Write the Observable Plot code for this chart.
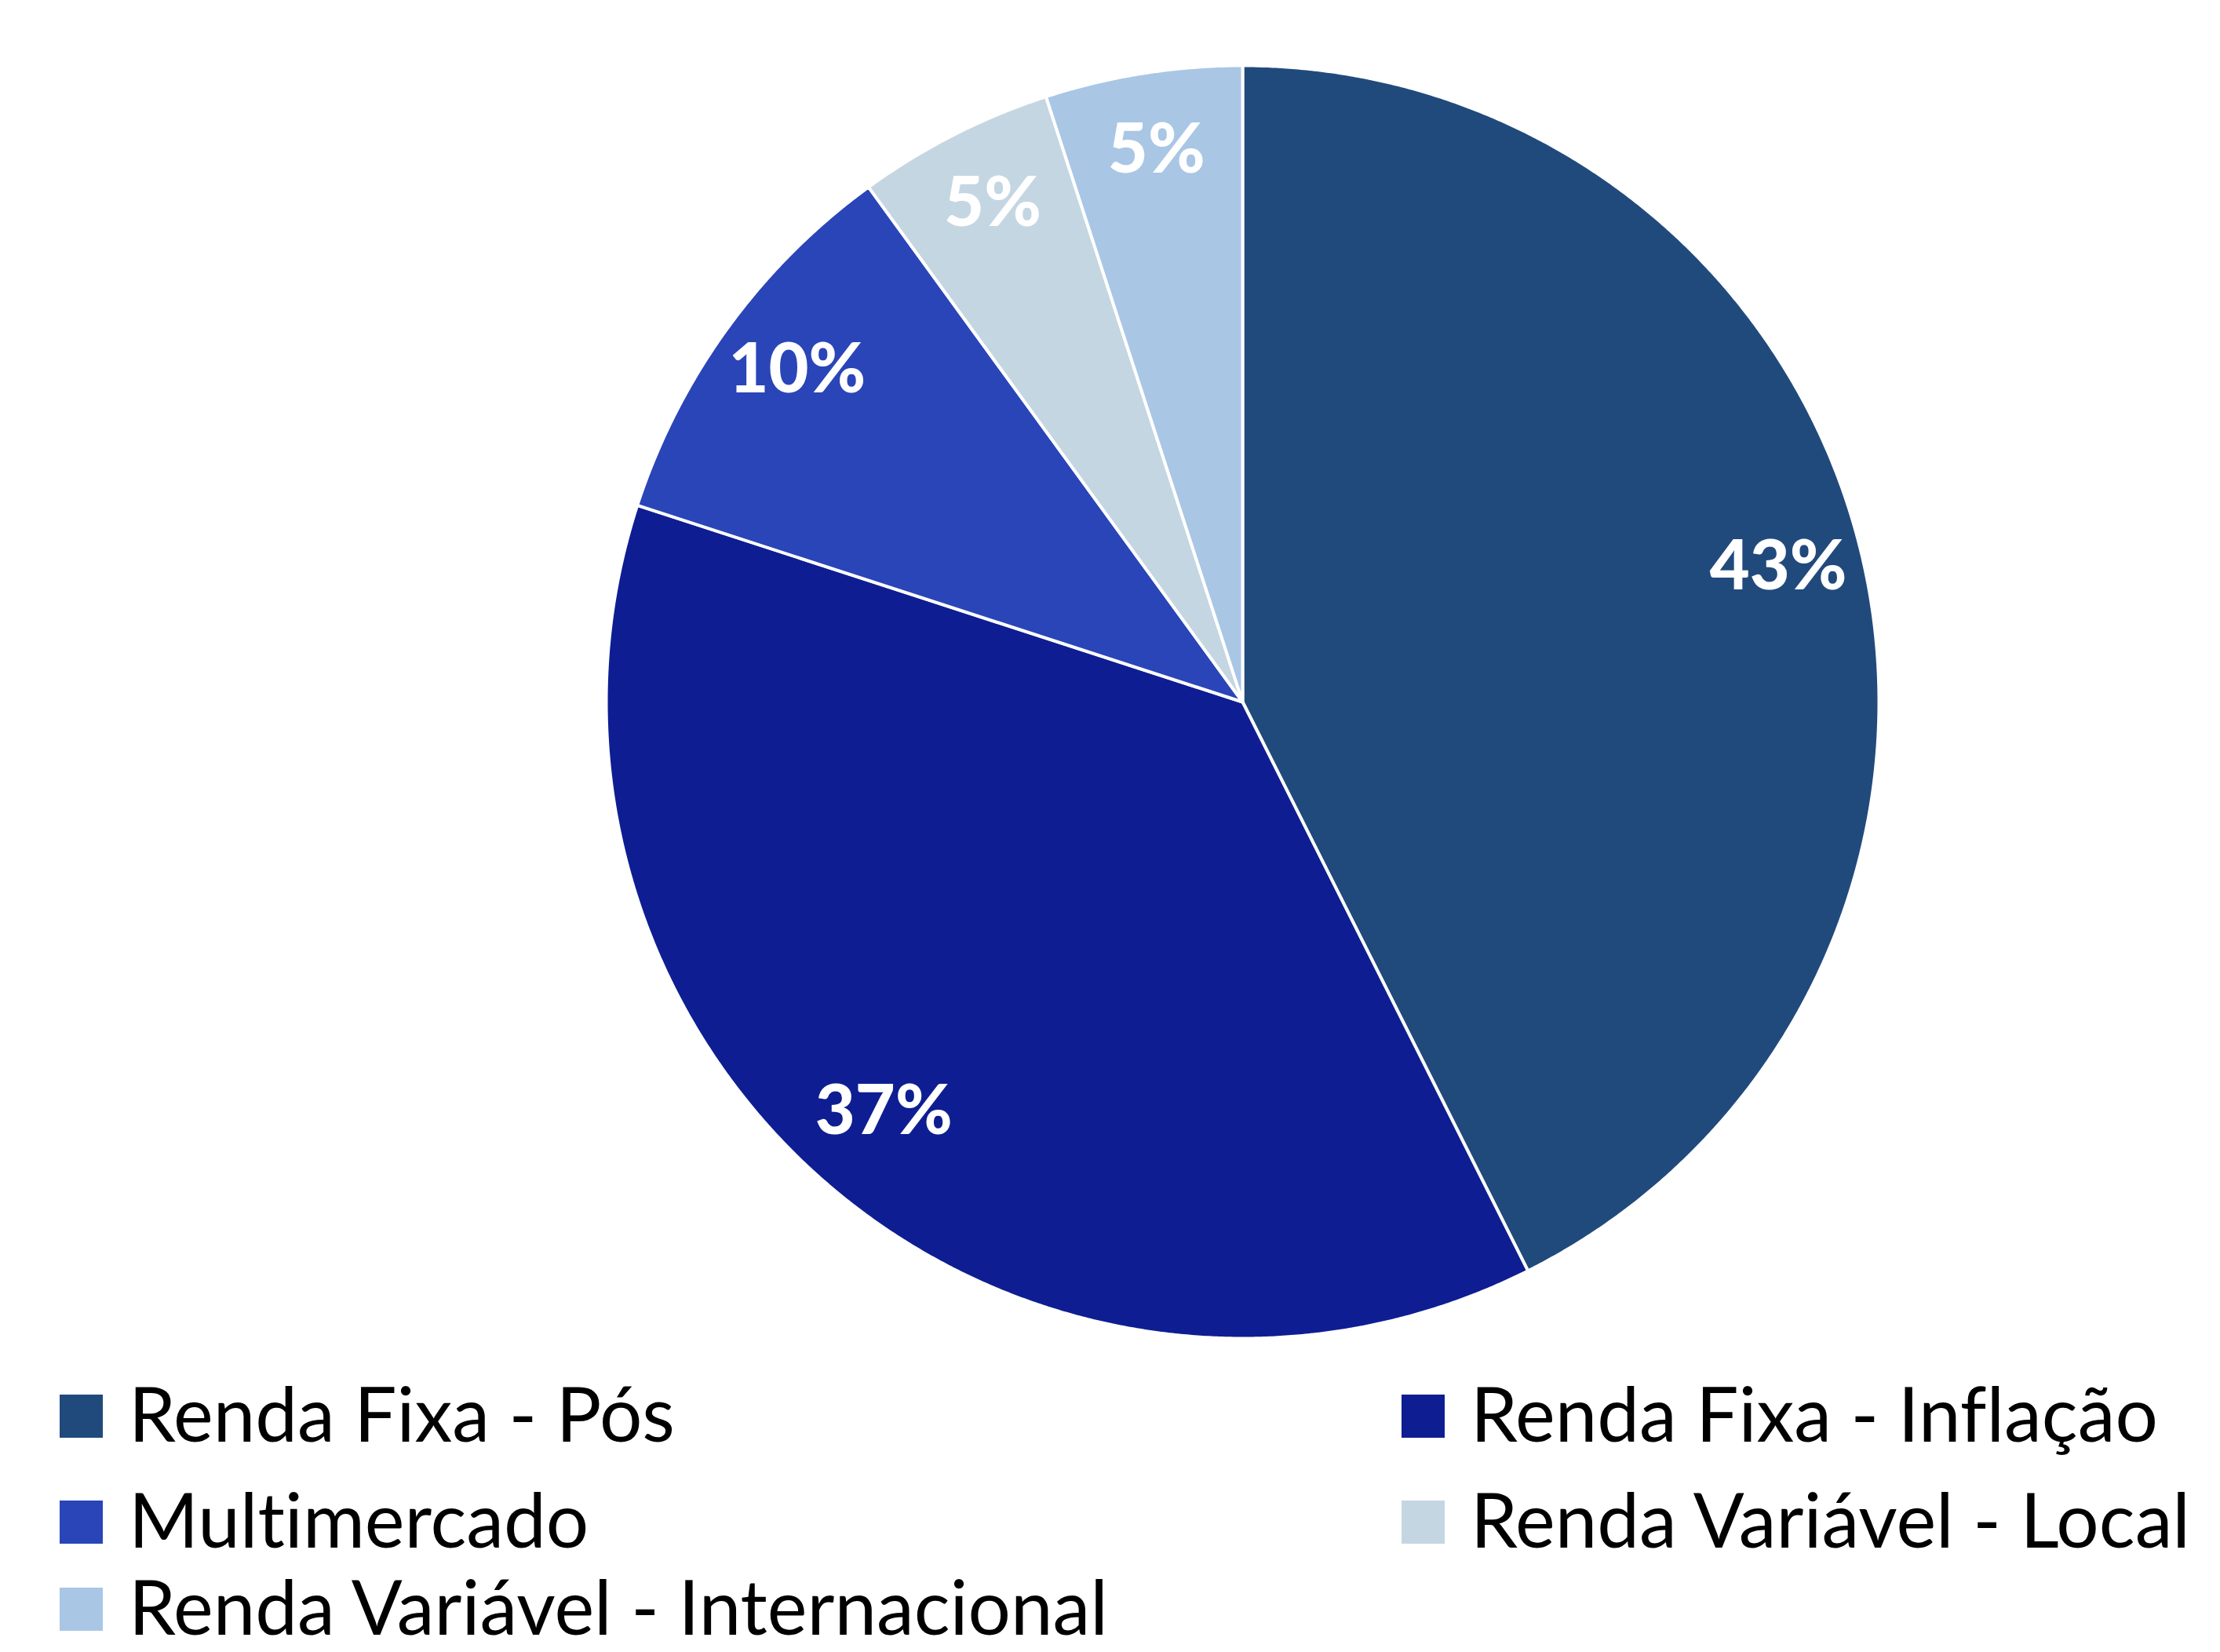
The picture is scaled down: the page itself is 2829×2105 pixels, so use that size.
<!DOCTYPE html>
<html>
<head>
<meta charset="utf-8">
<script src="https://cdn.jsdelivr.net/npm/d3@7"></script>
<script src="https://cdn.jsdelivr.net/npm/@observablehq/plot@0.6"></script>
<style>
  html, body { margin: 0; padding: 0; background: #fff; overflow: hidden; }
  #chart { position: relative; width: 2829px; height: 2105px; }
  #legend { display: block; }
  text { font-variant-ligatures: none; font-feature-settings: "liga" 0; }
</style>
</head>
<body>
<div id="chart"></div>
<script>
// ---- data ----
const categories = [
  "Renda Fixa - Pós",
  "Renda Fixa - Inflação",
  "Multimercado",
  "Renda Variável - Local",
  "Renda Variável - Internacional"
];
const shares = [42.6, 37.4, 10, 5, 5];
const colors = ["#214A7C", "#0E1E92", "#2945B8", "#C4D6E2", "#A9C6E5"];

// ---- layout ----
const W = 2829, H = 1740;          // SVG size
const CX = 1583, CY = 894, R = 811; // pie centre & radius (px)
const FONT = "Lato, 'Open Sans', sans-serif";

const data = categories.map((name, i) => ({name, value: shares[i]}));
const arcs = d3.pie().sort(null).value(d => d.value)(data);

// polygon outline of each slice, in unit-radius coordinates (y up)
const pts = [];
arcs.forEach(a => {
  const name = a.data.name;
  pts.push({name, x: 0, y: 0});
  const n = Math.max(2, Math.ceil((a.endAngle - a.startAngle) / (Math.PI / 720)));
  for (let k = 0; k <= n; k++) {
    const t = a.startAngle + (a.endAngle - a.startAngle) * k / n;
    pts.push({name, x: Math.sin(t), y: Math.cos(t)});
  }
});

const labelR = 0.865;
const labels = arcs.map(a => {
  const m = (a.startAngle + a.endAngle) / 2;
  return {name: a.data.name, x: labelR * Math.sin(m), y: labelR * Math.cos(m),
          text: Math.round(a.data.value) + "%"};
});

const plot = Plot.plot({
  width: W,
  height: H,
  margin: 0,
  style: {fontFamily: FONT, background: "#fff"},
  x: {domain: [-CX / R, (W - CX) / R], axis: null},
  y: {domain: [-(H - CY) / R, CY / R], axis: null},
  color: {domain: categories, range: colors},
  marks: [
    Plot.line(pts, {x: "x", y: "y", z: "name", fill: "name", stroke: "white",
                    strokeWidth: 4, strokeLinejoin: "round", curve: "linear-closed"}),
    Plot.text(labels, {x: "x", y: "y", text: "text", fill: "white", dy: -10,
                       fontSize: 88, fontWeight: 900, fontFamily: FONT})
  ]
});
document.getElementById("chart").appendChild(plot);

// ---- legend (below the SVG) ----
const legendH = 2105 - H;
const leg = d3.select("#chart").append("svg")
  .attr("id", "legend")
  .attr("width", W).attr("height", legendH)
  .style("overflow", "visible");
const colX = [76, 1786];
const rowBase = [97, 232, 343];
const sw = 55;
categories.forEach((c, i) => {
  const col = i % 2, row = Math.floor(i / 2);
  const g = leg.append("g");
  g.append("rect")
    .attr("x", colX[col]).attr("y", rowBase[row] - 60)
    .attr("width", sw).attr("height", sw)
    .attr("fill", colors[i]);
  g.append("text")
    .attr("x", colX[col] + sw + 33).attr("y", rowBase[row])
    .attr("font-family", FONT).attr("font-size", 96)
    .attr("fill", "#000")
    .text(c);
});
</script>
</body>
</html>
